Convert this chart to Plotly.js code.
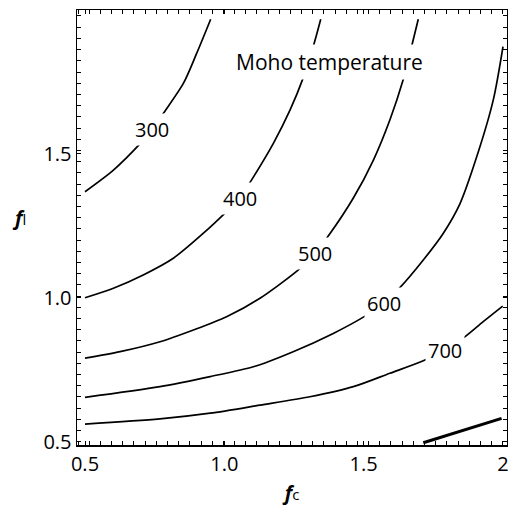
<!DOCTYPE html>
<html>
<head>
<meta charset="utf-8">
<script src="https://cdn.plot.ly/plotly-3.0.1.min.js"></script>
<style>html,body{margin:0;padding:0;background:#fff;}#chart{width:508px;height:506px;}</style>
</head>
<body>
<div id="chart"></div>
<script>
// Contour lines of Moho temperature (f_c, f_l)
const x300 = [0.500, 0.602, 0.697, 0.742, 0.781, 0.853, 0.901, 0.951];
const y300 = [1.368, 1.443, 1.534, 1.585, 1.640, 1.744, 1.849, 1.967];

const x400 = [0.500, 0.602, 0.709, 0.817, 0.925, 1.008, 1.056, 1.098, 1.176, 1.236, 1.281, 1.319, 1.346];
const y400 = [1.000, 1.033, 1.079, 1.137, 1.224, 1.299, 1.346, 1.409, 1.536, 1.652, 1.758, 1.872, 1.967];

const x500 = [0.500, 0.626, 0.769, 0.889, 1.008, 1.128, 1.272, 1.325, 1.373, 1.463, 1.535, 1.594, 1.642, 1.672, 1.696];
const y500 = [0.790, 0.8125, 0.847, 0.888, 0.934, 0.998, 1.102, 1.154, 1.214, 1.346, 1.478, 1.617, 1.758, 1.872, 1.967];

const x600 = [0.500, 0.769, 0.949, 1.104, 1.247, 1.391, 1.505, 1.565, 1.630, 1.714, 1.786, 1.845, 1.906, 1.965, 2.000];
const y600 = [0.654, 0.691, 0.726, 0.760, 0.8125, 0.876, 0.936, 0.975, 1.035, 1.131, 1.224, 1.325, 1.490, 1.686, 1.872];

const x700 = [0.500, 0.769, 0.949, 1.128, 1.307, 1.463, 1.594, 1.714, 1.792, 1.864, 1.929, 1.999];
const y700 = [0.561, 0.579, 0.599, 0.627, 0.656, 0.691, 0.7375, 0.781, 0.818, 0.865, 0.917, 0.971];

const x800 = [1.714, 1.995];
const y800 = [0.4965, 0.581];

// contour labels
const labelText = ["300", "400", "500", "600", "700"];
const labelX = [0.742, 1.056, 1.325, 1.573, 1.792];
const labelY = [1.585, 1.345, 1.153, 0.980, 0.818];

const titleText = "Moho temperature";
const titleX = 1.376, titleY = 1.819;

const xTickVals = [0.5, 1.0, 1.5, 2.0];
const xTickText = ["0.5", "1.0", "1.5", "2"];
const yTickVals = [0.5, 1.0, 1.5];
const yTickText = ["0.5", "1.0", "1.5"];

const FONT = "Open Sans, Noto Sans, sans-serif";

function line(x, y, w) {
  return {type: "scatter", mode: "lines", x: x, y: y,
          line: {color: "black", width: w, shape: "spline", smoothing: 0.8},
          hoverinfo: "skip", showlegend: false};
}

const traces = [
  line(x300, y300, 1.7),
  line(x400, y400, 1.7),
  line(x500, y500, 1.7),
  line(x600, y600, 1.7),
  line(x700, y700, 1.7),
  line(x800, y800, 3)
];

const annotations = labelText.map((t, i) => ({
  x: labelX[i], y: labelY[i], xref: "x", yref: "y", text: t, showarrow: false,
  font: {family: FONT, size: 20, color: "black"}, bgcolor: "white", borderpad: 2,
  xanchor: "center", yanchor: "middle"
}));
annotations.push({
  x: titleX, y: titleY, xref: "x", yref: "y", text: titleText, showarrow: false,
  font: {family: FONT, size: 21, color: "black"}, bgcolor: "white", borderpad: 3,
  xanchor: "center", yanchor: "middle"
});
annotations.push({
  x: -0.135, y: 0.524, xref: "paper", yref: "paper", showarrow: false,
  text: "<b><i>f</i></b><span style='font-size:15px'>l</span>",
  font: {family: FONT, size: 20, color: "black"}, xanchor: "center", yanchor: "middle"
});

const axisCommon = {
  showgrid: false, zeroline: false, showline: true, linecolor: "black", linewidth: 1.5,
  mirror: "allticks", ticks: "inside", ticklen: 4, tickwidth: 1, tickcolor: "black",
  ticklabeloverflow: "allow",
  tickfont: {family: FONT, size: 20, color: "black"}
};

const layout = {
  width: 508, height: 506,
  margin: {l: 77, r: 1, t: 10, b: 61, pad: 0},
  paper_bgcolor: "white", plot_bgcolor: "white",
  showlegend: false,
  xaxis: Object.assign({}, axisCommon, {
    range: [0.4713, 2.0144], tickmode: "array", tickvals: xTickVals, ticktext: xTickText,
    title: {text: "<b><i>f</i></b><span style='font-size:15px'>c</span>",
            font: {family: FONT, size: 20, color: "black"}, standoff: 11},
    minor: {dtick: 0.0401, tick0: 0.5154, ticks: "inside", ticklen: 4, tickwidth: 1, tickcolor: "black"}
  }),
  yaxis: Object.assign({}, axisCommon, {
    range: [0.4885, 1.999], tickmode: "array", tickvals: yTickVals, ticktext: yTickText,
    minor: {dtick: 0.0389, tick0: 0.5, ticks: "inside", ticklen: 4, tickwidth: 1, tickcolor: "black"}
  }),
  annotations: annotations
};

Plotly.newPlot("chart", traces, layout, {staticPlot: true, displayModeBar: false});
</script>
</body>
</html>
